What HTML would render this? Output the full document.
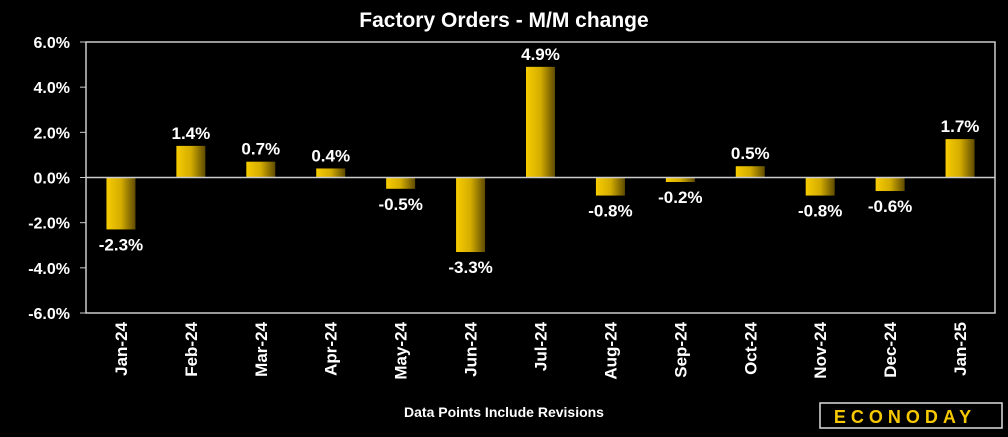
<!DOCTYPE html>
<html><head><meta charset="utf-8"><style>
body{margin:0;background:#000;width:1008px;height:432px;overflow:hidden}
svg text{font-family:"Liberation Sans",sans-serif;fill:#fff;font-weight:bold}
</style></head><body>
<svg id="c" width="1008" height="432">
<defs><linearGradient id="g" x1="0" x2="1" y1="0" y2="0"><stop offset="0" stop-color="#f7cc00"/><stop offset="0.5" stop-color="#d4ad00"/><stop offset="1" stop-color="#5e4a00"/></linearGradient></defs>
<text x="504" y="27" text-anchor="middle" font-size="21">Factory Orders - M/M change</text>
<rect x="86" y="42" width="909" height="271" fill="none" stroke="#ccc" stroke-width="1.5"/>
<g id="bars"></g>
<text x="504" y="417" text-anchor="middle" font-size="14">Data Points Include Revisions</text>
<rect x="820" y="403" width="182" height="25" fill="#000" stroke="#ddd" stroke-width="1.5"/>
<text x="905" y="423" text-anchor="middle" font-size="18" style="fill:#f5c800;letter-spacing:5px">ECONODAY</text>
</svg>
<script>
const categories=["Jan-24","Feb-24","Mar-24","Apr-24","May-24","Jun-24","Jul-24","Aug-24","Sep-24","Oct-24","Nov-24","Dec-24","Jan-25"];
const values=[-2.3,1.4,0.7,0.4,-0.5,-3.3,4.9,-0.8,-0.2,0.5,-0.8,-0.6,1.7];
const yTicks=[6,4,2,0,-2,-4,-6];
const NS="http://www.w3.org/2000/svg";
const svg=document.getElementById('c'),g=document.getElementById('bars');
const L=86,W=909,T=42,H=271,ymin=-6,ymax=6;
const y=v=>T+(ymax-v)/(ymax-ymin)*H;
const x=i=>L+(i+0.5)*W/categories.length;
function mk(t,a,p){const e=document.createElementNS(NS,t);for(const k in a)e.setAttribute(k,a[k]);(p||svg).appendChild(e);return e;}
yTicks.forEach(v=>{const t=mk('text',{x:70,y:y(v)+6,'text-anchor':'end','font-size':16});t.textContent=v.toFixed(1)+'%';


const k=mk('line',{x1:80,x2:86,y1:y(v),y2:y(v),stroke:'#ccc'});

});
const z=mk('line',{x1:L,x2:L+W,y1:y(0),y2:y(0),stroke:'#ccc','stroke-width':1.5});


categories.forEach((c,i)=>{const v=values[i],cx=x(i),bw=29;
const top=Math.min(y(v),y(0)),h=Math.abs(y(v)-y(0));
const r=mk('rect',{x:cx-bw/2,y:top,width:bw,height:h,fill:'url(#g)'},g);


const ly=v>=0?y(v)-7:y(v)+21;
const t=mk('text',{x:cx,y:ly,'text-anchor':'middle','font-size':17});t.textContent=v.toFixed(1)+'%';


const xl=mk('text',{transform:`translate(${cx+6},${322}) rotate(-90)`,'text-anchor':'end','font-size':17});xl.textContent=c;

});
</script>
</body></html>
